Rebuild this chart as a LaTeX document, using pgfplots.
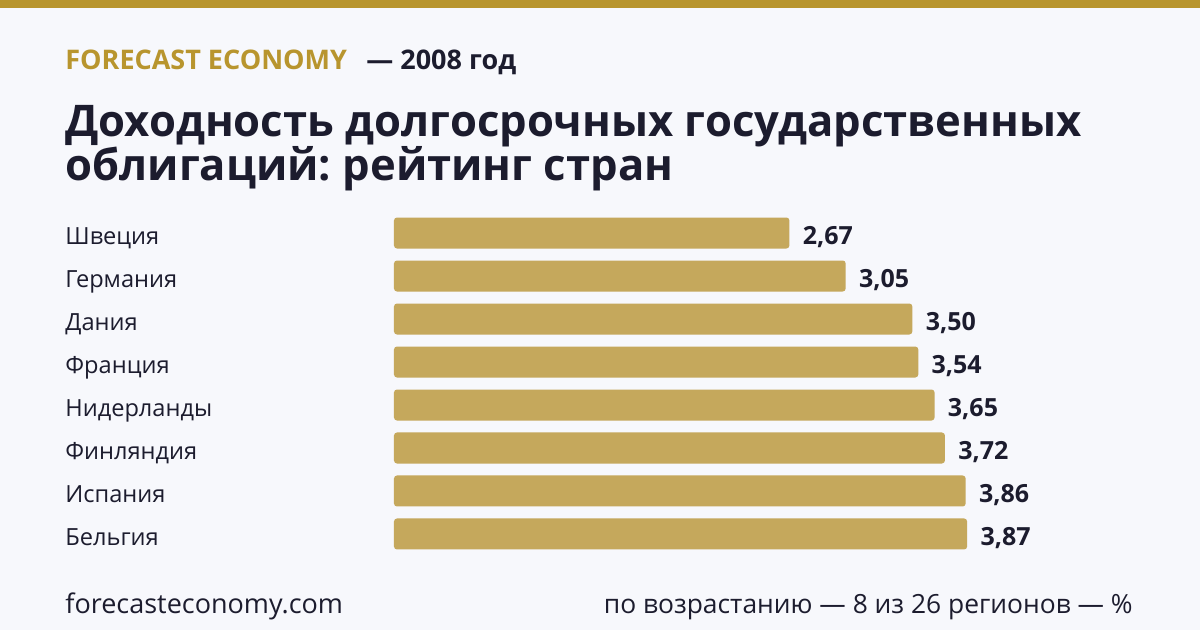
\documentclass[border=0pt]{standalone}
\usepackage{fontspec}
\setmainfont{Open Sans}
\usepackage{pgfplots}
\pgfplotsset{compat=1.18}
\definecolor{bgc}{HTML}{F7F8FC}
\definecolor{gold}{HTML}{B8952E}
\definecolor{barc}{HTML}{C5A85C}
\definecolor{ink}{HTML}{1C1C2E}
\frenchspacing
\begin{document}
\begin{tikzpicture}[x=0.5pt,y=-0.5pt]
\useasboundingbox (0,0) rectangle (1200,630);
\fill[bgc] (0,0) rectangle (1200,630);
\fill[gold] (0,0) rectangle (1200,8);
% header
\node[anchor=base west,inner sep=0,text=gold,font=\fontsize{13.5}{15}\selectfont\bfseries] at (65,70) {FORECAST ECONOMY};
\node[anchor=base west,inner sep=0,text=ink,font=\fontsize{13.5}{15}\selectfont\bfseries] at (366,70) {— 2008 год};
\node[anchor=base west,inner sep=0,text=ink,font=\fontsize{21.8}{24}\selectfont\bfseries] at (65,137) {Доходность долгосрочных государственных};
\node[anchor=base west,inner sep=0,text=ink,font=\fontsize{21.8}{24}\selectfont\bfseries] at (65,181) {облигаций: рейтинг стран};
% footer
\node[anchor=base west,inner sep=0,text=ink,font=\fontsize{13.5}{15}\selectfont] at (65,613) {forecasteconomy.com};
\node[anchor=base east,inner sep=0,text=ink,font=\fontsize{13.2}{15}\selectfont] at (1133,613) {по возрастанию — 8 из 26 регионов — \%};
\begin{axis}[
    at={(197pt,-105.75pt)}, anchor=north west,
    width=370.25pt, height=172pt, scale only axis,
    xbar, bar width=15.5pt,
    xmin=0, xmax=5,
    ymin=-0.5, ymax=7.5, y dir=reverse,
    axis line style={draw=none},
    xtick=\empty,
    ytick={0,...,7},
    yticklabels={Швеция,Германия,Дания,Франция,Нидерланды,Финляндия,Испания,Бельгия},
    major tick length=0pt,
    yticklabel style={anchor=base west, inner sep=0pt, xshift=-164.5pt, yshift=-5.8pt, text=ink, font=\fontsize{11.8}{13}\selectfont},
    nodes near coords,
    nodes near coords style={anchor=base west, inner sep=0pt, xshift=6.5pt, yshift=-5.7pt, text=ink, font=\fontsize{12.5}{14}\selectfont\bfseries,
        /pgf/number format/.cd, fixed, fixed zerofill, precision=2, use comma, assume math mode=true},
    point meta=explicit,
]
\addplot[fill=barc, draw=none, rounded corners=1.5pt] coordinates {
    (2.67,0) [2.67]
    (3.05,1) [3.05]
    (3.50,2) [3.50]
    (3.54,3) [3.54]
    (3.65,4) [3.65]
    (3.72,5) [3.72]
    (3.86,6) [3.86]
    (3.87,7) [3.87]
};
\end{axis}
\end{tikzpicture}
\end{document}
